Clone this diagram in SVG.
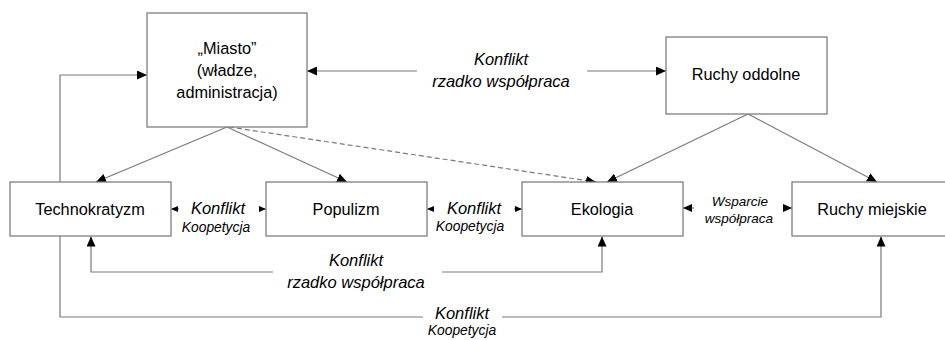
<svg xmlns="http://www.w3.org/2000/svg" width="945" height="340" viewBox="0 0 945 340">
<style>
.box{fill:#fff;stroke:#7f7f7f;stroke-width:1.3}
.ln{fill:none;stroke:#7a7a7a;stroke-width:1.2}
.dash{stroke-dasharray:5,3}
.t{font-family:"Liberation Sans",Arial,sans-serif;font-size:16.3px;fill:#000;text-anchor:middle}
.i{font-family:"Liberation Sans",Arial,sans-serif;font-style:italic;fill:#000;text-anchor:middle}
.big{font-size:16.5px}
.sm{font-size:13.8px}
.xs{font-size:13.5px}
</style>
<defs>
<marker id="a" markerUnits="userSpaceOnUse" markerWidth="10" markerHeight="9" refX="10" refY="4.5" orient="auto"><path d="M0,0 L10,4.5 L0,9 z" fill="#000"/></marker>
<marker id="s" markerUnits="userSpaceOnUse" markerWidth="7" markerHeight="6" refX="7" refY="3" orient="auto"><path d="M0,0 L7,3 L0,6 z" fill="#000"/></marker>
<marker id="m" markerUnits="userSpaceOnUse" markerWidth="9" markerHeight="8" refX="9" refY="4" orient="auto"><path d="M0,0 L9,4 L0,8 z" fill="#000"/></marker>
</defs>
<g id="connectors">
<path class="ln" d="M423,317 L60,317 L60,75 L147,75" marker-end="url(#a)"/>
<path class="ln" d="M502,317 L881,317 L881,236.5" marker-end="url(#a)"/>
<path class="ln" d="M417,71 L307,71" marker-end="url(#a)"/>
<path class="ln" d="M587,71 L666,71" marker-end="url(#a)"/>
<path class="ln" d="M227,127 L96,182" marker-end="url(#a)"/>
<path class="ln" d="M227,127 L347,182" marker-end="url(#a)"/>
<path class="ln dash" d="M229,127 L596,182" marker-end="url(#a)"/>
<path class="ln" d="M748,114 L607,182" marker-end="url(#a)"/>
<path class="ln" d="M748,114 L877,182" marker-end="url(#a)"/>
<path class="ln" d="M273,272 L91,272 L91,236.5" marker-end="url(#a)"/>
<path class="ln" d="M442,272 L602,272 L602,236.5" marker-end="url(#a)"/>
<path class="ln" d="M179,209 L171,209" marker-end="url(#s)"/>
<path class="ln" d="M259,209 L266,209" marker-end="url(#s)"/>
<path class="ln" d="M434,209 L427,209" marker-end="url(#s)"/>
<path class="ln" d="M514,209 L522,209" marker-end="url(#s)"/>
<path class="ln" d="M694,208 L683,208" marker-end="url(#m)"/>
<path class="ln" d="M784,208 L792,208" marker-end="url(#m)"/>
</g>
<g id="miasto">
<rect class="box" x="147" y="13" width="160" height="114"/>
<text class="t" x="227" y="54">„Miasto”</text>
<text class="t" x="227" y="76">(władze,</text>
<text class="t" x="227" y="98">administracja)</text>
</g>
<g id="ruchy-oddolne">
<rect class="box" x="666" y="37" width="161" height="77"/>
<text class="t" x="746" y="80">Ruchy oddolne</text>
</g>
<g id="technokratyzm">
<rect class="box" x="10" y="182" width="161" height="54"/>
<text class="t" x="90" y="215">Technokratyzm</text>
</g>
<g id="populizm">
<rect class="box" x="266" y="182" width="161" height="54"/>
<text class="t" x="346" y="215">Populizm</text>
</g>
<g id="ekologia">
<rect class="box" x="522" y="182" width="161" height="54"/>
<text class="t" x="602" y="215">Ekologia</text>
</g>
<g id="ruchy-miejskie">
<rect class="box" x="792" y="182" width="161" height="54"/>
<text class="t" x="872" y="215">Ruchy miejskie</text>
</g>
<g id="labels">
<text class="i big" x="501" y="65">Konflikt</text>
<text class="i big" x="501" y="87">rzadko współpraca</text>
<text class="i big" x="218" y="214">Konflikt</text>
<text class="i sm" x="216" y="232">Koopetycja</text>
<text class="i big" x="474" y="214">Konflikt</text>
<text class="i sm" x="470" y="231">Koopetycja</text>
<text class="i xs" x="740" y="206">Wsparcie</text>
<text class="i xs" x="739" y="223">współpraca</text>
<text class="i big" x="356" y="266">Konflikt</text>
<text class="i big" x="356" y="288">rzadko współpraca</text>
<text class="i big" x="462" y="319">Konflikt</text>
<text class="i sm" x="462" y="335">Koopetycja</text>
</g>
</svg>
